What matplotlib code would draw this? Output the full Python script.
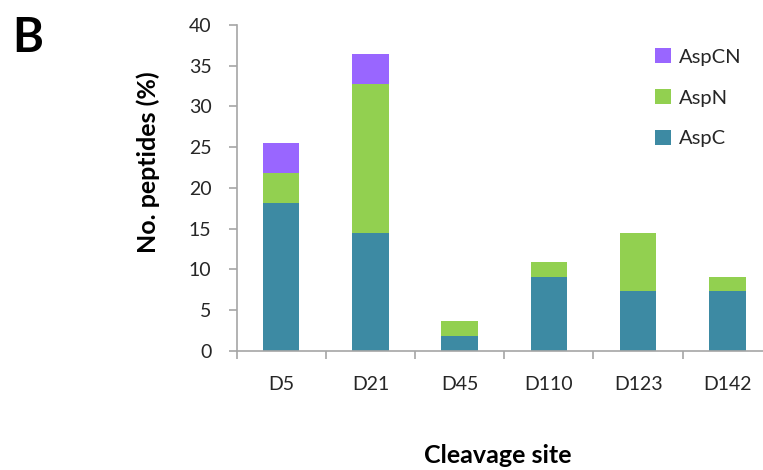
import matplotlib
matplotlib.use("Agg")
import matplotlib.pyplot as plt
import numpy as np

plt.rcParams['font.family'] = ['Lato', 'DejaVu Sans']

sites = ["D5", "D21", "D45", "D110", "D123", "D142"]
asp_c = [18.2, 14.5, 1.8, 9.1, 7.3, 7.3]
asp_n = [3.6, 18.2, 1.8, 1.8, 7.2, 1.8]
asp_cn = [3.7, 3.7, 0.0, 0.0, 0.0, 0.0]

col_c = "#3d8aa3"
col_n = "#92d050"
col_cn = "#9966ff"
text_col = "#262626"
spine_col = "#a6a6a6"

fig = plt.figure(figsize=(7.63, 4.70), dpi=100)
ax = fig.add_axes([0.310, 0.2538, 0.690, 0.6930])

x = np.arange(len(sites))
w = 0.41
b1 = ax.bar(x, asp_c, w, color=col_c, label="AspC")
b2 = ax.bar(x, asp_n, w, bottom=asp_c, color=col_n, label="AspN")
base = np.array(asp_c) + np.array(asp_n)
b3 = ax.bar(x, asp_cn, w, bottom=base, color=col_cn, label="AspCN")

ax.set_ylim(0, 40)
ax.set_yticks(np.arange(0, 41, 5))
ax.set_xlim(-0.5, 5.4)
ax.set_xticks(x)
ax.set_xticklabels(sites)
ax.set_xticks(np.arange(-0.5, 5.5, 1.0), minor=True)

for s in ["top", "right"]:
    ax.spines[s].set_visible(False)
for s in ["left", "bottom"]:
    ax.spines[s].set_color(spine_col)
    ax.spines[s].set_linewidth(1.2)

ax.tick_params(axis="x", which="major", length=0, pad=18, labelsize=14, labelcolor=text_col)
ax.tick_params(axis="x", which="minor", length=6, width=1.2, color=spine_col)
ax.tick_params(axis="y", length=6, width=1.2, color=spine_col, pad=12, labelsize=14, labelcolor=text_col)

leg = ax.legend(handles=[b3, b2, b1], loc="upper left", bbox_to_anchor=(0.76, 0.985),
                frameon=False, fontsize=14.5, handlelength=0.8, handleheight=0.8,
                handletextpad=0.4, labelspacing=1.15, labelcolor=text_col)

fig.text(0.194, 0.655, "No. peptides (%)", rotation=90, ha="center", va="center",
         fontsize=18, fontweight="bold", color="black")
fig.text(0.652, 0.030, "Cleavage site", ha="center", va="center",
         fontsize=18, fontweight="bold", color="black")
fig.text(0.016, 0.965, "B", ha="left", va="top", fontsize=34, fontweight="bold", color="black")

fig.savefig("out.png", dpi=100)
